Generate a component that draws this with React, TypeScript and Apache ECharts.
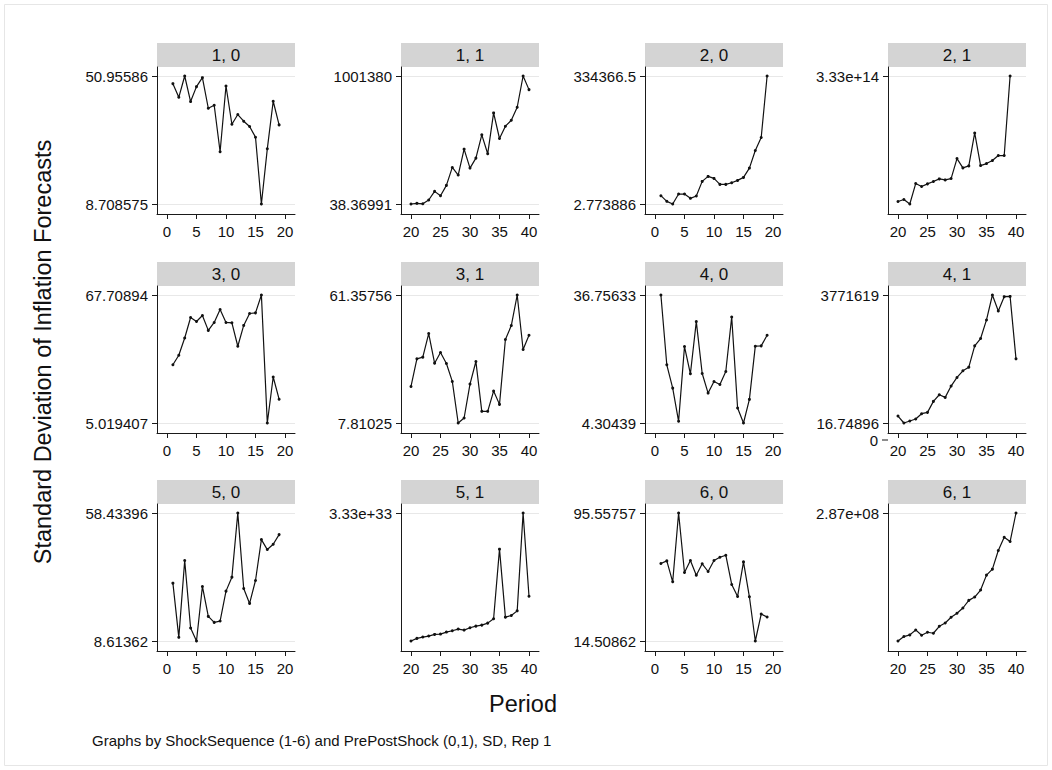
import React, { useEffect, useRef } from "react";
import * as echarts from "echarts";

const FONT = "'Liberation Sans', Arial, Helvetica, sans-serif";

// Periods
const periodsPre = [1, 2, 3, 4, 5, 6, 7, 8, 9, 10, 11, 12, 13, 14, 15, 16, 17, 18, 19];
const periodsPost = [20, 21, 22, 23, 24, 25, 26, 27, 28, 29, 30, 31, 32, 33, 34, 35, 36, 37, 38, 39, 40];
const periodsPostShort = [20, 21, 22, 23, 24, 25, 26, 27, 28, 29, 30, 31, 32, 33, 34, 35, 36, 37, 38, 39];

const xTicksPre = [0, 5, 10, 15, 20];
const xTicksPost = [20, 25, 30, 35, 40];

// Panel titles (ShockSequence, PrePostShock)
const panelTitles = ["1, 0", "1, 1", "2, 0", "2, 1", "3, 0", "3, 1", "4, 0", "4, 1", "5, 0", "5, 1", "6, 0", "6, 1"];

// Y tick labels (max / min) as printed
const topLabels = ["50.95586", "1001380", "334366.5", "3.33e+14", "67.70894", "61.35756", "36.75633", "3771619", "58.43396", "3.33e+33", "95.55757", "2.87e+08"];
const bottomLabels = ["8.708575", "38.36991", "2.773886", "", "5.019407", "7.81025", "4.30439", "16.74896", "8.61362", "", "14.50862", ""];

// Series values (standard deviation of inflation forecasts)
const sd1_0 = [48.43, 43.93, 50.95586, 42.51, 47.44, 50.41, 40.31, 41.3, 25.94, 47.66, 35.04, 38.23, 36.03, 34.27, 30.76, 8.708575, 26.92, 42.62, 34.82];
const sd1_1 = [38.36991, 5240, 1500, 31210, 98870, 65060, 145690, 286140, 226320, 429180, 280940, 358960, 541030, 392780, 712690, 512420, 608640, 655450, 756900, 1001380, 894750];
const sd2_0 = [21715, 6950, 2.773886, 26057, 26057, 14767, 20846, 59059, 72087, 66875, 51243, 51243, 55585, 61665, 69481, 93798, 139829, 173699, 334366.5];
const sd2_1 = [6.9e12, 1.21e13, 5e11, 5.36e13, 4.58e13, 5.28e13, 5.88e13, 6.57e13, 6.31e13, 6.66e13, 1.185e14, 9.43e13, 9.95e13, 1.851e14, 1.003e14, 1.055e14, 1.133e14, 1.263e14, 1.263e14, 3.33e14];
const sd3_0 = [33.53, 38.23, 46.65, 56.7, 54.75, 57.67, 50.38, 54.27, 60.58, 54.27, 54.1, 42.6, 52.81, 58.64, 58.96, 67.70894, 5.019407, 27.54, 16.68];
const sd3_1 = [23.11, 34.65, 35.35, 45.22, 32.84, 37.3, 32.71, 25.2, 7.81025, 9.9, 24.08, 33.54, 12.68, 12.68, 21.16, 15.6, 42.72, 48.56, 61.35756, 38.55, 44.53];
const sd4_0 = [36.75633, 19.06, 13.15, 4.73, 23.69, 16.78, 30.01, 16.86, 11.89, 14.84, 14.08, 17.37, 31.19, 8.1, 4.30439, 10.29, 23.78, 23.86, 26.56];
const sd4_1 = [205725, 16.74896, 58780, 117560, 274300, 313490, 636770, 832700, 754320, 1087400, 1342100, 1538000, 1645800, 2272800, 2488300, 3036900, 3771619, 3301400, 3722600, 3730000, 1890700];
const sd5_0 = [31.13, 10.04, 39.93, 13.66, 8.61362, 29.84, 18.19, 15.86, 16.38, 28.02, 33.46, 58.43396, 29.06, 23.24, 32.17, 48.08, 44.2, 46.27, 50.02];
const sd5_1 = [1e30, 6.9e31, 1.035e32, 1.294e32, 1.725e32, 1.81e32, 2.33e32, 2.67e32, 3.11e32, 2.85e32, 3.45e32, 3.88e32, 4.14e32, 4.66e32, 5.78e32, 2.39e33, 6.21e32, 6.64e32, 7.85e32, 3.33e33, 1.165e33];
const sd6_0 = [63.56, 65.24, 51.98, 95.55757, 57.88, 65.45, 56.19, 63.4, 58.51, 65.45, 67.56, 68.82, 50.3, 42.72, 64.61, 42.5, 14.50862, 31.56, 29.67];
const sd6_1 = [5e5, 10.41e6, 14.13e6, 25.28e6, 13.38e6, 20.08e6, 17.84e6, 33.46e6, 40.89e6, 53.53e6, 62.46e6, 74.35e6, 91.45e6, 98.89e6, 114.5e6, 147.96e6, 161.34e6, 202.98e6, 232.72e6, 223.06e6, 287e6];

const panelValues = [sd1_0, sd1_1, sd2_0, sd2_1, sd3_0, sd3_1, sd4_0, sd4_1, sd5_0, sd5_1, sd6_0, sd6_1];
const panelPeriods = [periodsPre, periodsPost, periodsPre, periodsPostShort, periodsPre, periodsPost, periodsPre, periodsPost, periodsPre, periodsPost, periodsPre, periodsPost];

// Layout
const colLeft = [157, 401, 645, 888];
const rowTop = [67, 286, 504];
const GW = 138;
const GH = 147;
const HEADER_H = 24;
const PAD_TOP = 9;
const PAD_BOTTOM = 10;
const INNER = GH - PAD_TOP - PAD_BOTTOM;

function buildOption() {
  const grid: any[] = [];
  const xAxis: any[] = [];
  const yAxis: any[] = [];
  const series: any[] = [];
  const graphic: any[] = [];

  graphic.push({
    type: "rect",
    shape: { x: 4.5, y: 4.5, width: 1043, height: 761 },
    style: { fill: "none", stroke: "#e6e6e6", lineWidth: 1 },
    silent: true,
  });

  panelValues.forEach((vals, i) => {
    const r = Math.floor(i / 4);
    const c = i % 4;
    const xs = panelPeriods[i];
    const mn = Math.min(...vals);
    const mx = Math.max(...vals);
    const R = mx - mn;
    const isPost = c % 2 === 1;
    const xTicks = isPost ? xTicksPost : xTicksPre;
    const x0 = xTicks[0];
    const unitPad = (GW / (118 / 20) - 20) / 2;
    const top = topLabels[i];
    const bottom = bottomLabels[i];
    const yCustom = bottom ? [mn, mx] : [mx];

    grid.push({ left: colLeft[c], top: rowTop[r], width: GW, height: GH });

    xAxis.push({
      type: "value",
      gridIndex: i,
      min: x0 - unitPad,
      max: x0 + 20 + unitPad,
      axisLine: { show: true, onZero: false, lineStyle: { color: "#1a1a1a", width: 1 } },
      axisTick: { show: true, length: 5, customValues: xTicks, lineStyle: { color: "#1a1a1a", width: 1 } },
      axisLabel: { customValues: xTicks, fontSize: 15, color: "#111", margin: 10, fontFamily: FONT },
      splitLine: { show: false },
    });

    yAxis.push({
      type: "value",
      gridIndex: i,
      min: mn - (PAD_BOTTOM * R) / INNER,
      max: mx + (PAD_TOP * R) / INNER,
      axisLine: { show: true, onZero: false, lineStyle: { color: "#1a1a1a", width: 1 } },
      axisTick: { show: true, length: 5, customValues: yCustom, lineStyle: { color: "#1a1a1a", width: 1 } },
      axisLabel: {
        customValues: yCustom,
        fontSize: 15,
        color: "#111",
        margin: 9,
        fontFamily: FONT,
        formatter: (v: number) => (Math.abs(v - mx) <= Math.abs(v - mn) ? top : bottom),
      },
      splitLine: { show: true, lineStyle: { color: "#e8e8e8", width: 1 } },
    });

    series.push({
      type: "line",
      xAxisIndex: i,
      yAxisIndex: i,
      data: xs.map((x, k) => [x, vals[k]]),
      symbol: "circle",
      symbolSize: 3,
      showSymbol: true,
      lineStyle: { color: "#111", width: 1.2 },
      itemStyle: { color: "#111" },
      silent: true,
    });

    // header strip
    graphic.push({
      type: "rect",
      shape: { x: colLeft[c], y: rowTop[r] - HEADER_H, width: GW, height: HEADER_H },
      style: { fill: "#d4d4d4", stroke: "none" },
      silent: true,
    });
    graphic.push({
      type: "text",
      x: colLeft[c] + GW / 2,
      y: rowTop[r] - HEADER_H / 2,
      style: { text: panelTitles[i], fontSize: 17, fill: "#111", fontFamily: FONT, align: "center", verticalAlign: "middle" },
      silent: true,
    });
  });

  // stray "0" tick on panel 4,1
  graphic.push({
    type: "line",
    shape: { x1: 882, y1: 440, x2: 888, y2: 440 },
    style: { stroke: "#1a1a1a", lineWidth: 1 },
    silent: true,
  });
  graphic.push({
    type: "text",
    x: 878,
    y: 440,
    style: { text: "0", fontSize: 15, fill: "#111", fontFamily: FONT, align: "right", verticalAlign: "middle" },
    silent: true,
  });

  // axis titles and note
  graphic.push({
    type: "text",
    x: 43,
    y: 352,
    rotation: Math.PI / 2,
    style: { text: "Standard Deviation of Inflation Forecasts", fontSize: 23.5, fill: "#111", fontFamily: FONT, align: "center", verticalAlign: "middle" },
    silent: true,
  });
  graphic.push({
    type: "text",
    x: 523,
    y: 704,
    style: { text: "Period", fontSize: 23.5, fill: "#111", fontFamily: FONT, align: "center", verticalAlign: "middle" },
    silent: true,
  });
  graphic.push({
    type: "text",
    x: 92,
    y: 740,
    style: { text: "Graphs by ShockSequence (1-6) and PrePostShock (0,1), SD, Rep 1", fontSize: 15, fill: "#111", fontFamily: FONT, align: "left", verticalAlign: "middle" },
    silent: true,
  });

  return {
    animation: false,
    backgroundColor: "#ffffff",
    grid,
    xAxis,
    yAxis,
    series,
    graphic,
  };
}

export default function App() {
  const ref = useRef<HTMLDivElement>(null);
  useEffect(() => {
    if (!ref.current) return;
    const chart = echarts.init(ref.current, undefined, { renderer: "svg" });
    chart.setOption(buildOption() as any);
    return () => chart.dispose();
  }, []);
  return <div ref={ref} style={{ position: "fixed", left: 0, top: 0, width: 1052, height: 770 }} />;
}
